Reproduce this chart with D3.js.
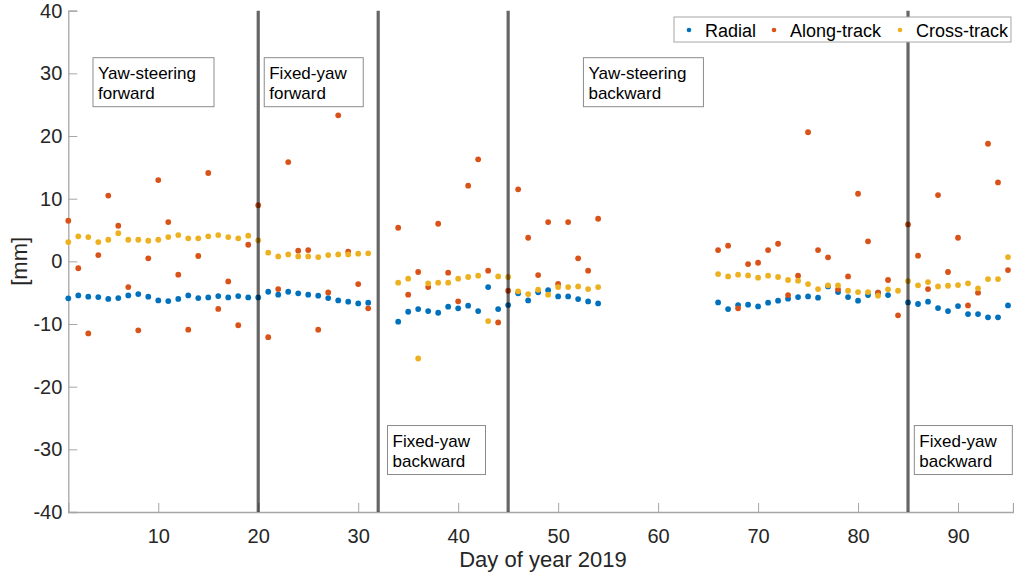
<!DOCTYPE html>
<html>
<head>
<meta charset="utf-8">
<script src="https://cdn.jsdelivr.net/npm/d3@7"></script>
<style>
  html, body { margin: 0; padding: 0; background: #fff; }
  svg { display: block; font-family: "Liberation Sans", Arial, sans-serif; }
</style>
</head>
<body>
<svg id="chart" width="1014" height="576"></svg>
<script>
// Day-of-year epochs (2019) with orbit residuals in mm
const days = [
  1,2,3,4,5,6,7,8,9,10,11,12,13,14,15,16,17,18,19,20,21,22,23,24,25,26,27,28,29,30,31,
  34,35,36,37,38,39,40,41,42,43,44,45,46,47,48,49,50,51,52,53,54,
  66,67,68,69,70,71,72,73,74,75,76,77,78,79,80,81,82,83,84,85,86,87,88,89,90,91,92,93,94,95
];

const radial = [
  -5.9,-5.43,-5.64,-5.7,-6.0,-5.86,-5.43,-5.22,-5.64,-6.23,-6.34,-6.0,-5.43,-5.86,-5.75,-5.54,-5.75,-5.54,-5.75,-5.75,
  -4.85,-5.32,-4.85,-5.11,-5.32,-5.48,-5.86,-6.23,-6.44,-6.71,-6.6,
  -9.63,-8.04,-7.61,-7.93,-8.2,-7.24,-7.5,-7.08,-7.93,-4.1,-7.61,-6.97,-5.11,-6.23,-4.95,-4.6,-5.59,-5.59,-6.02,-6.39,-6.71,
  -6.55,-7.61,-6.97,-6.92,-7.2,-6.6,-6.28,-5.96,-5.7,-5.59,-5.8,-4.0,-4.9,-5.7,-6.28,-5.38,-5.0,-5.38,null,
  -6.55,-6.81,-6.44,-7.45,-7.93,-7.13,-8.41,-8.41,-8.94,-8.94,-7.03
];

const alongTrack = [
  6.48,-1.1,-11.5,1.0,10.5,5.68,-4.1,-11.0,0.48,12.97,6.27,-2.13,-10.9,0.85,14.1,-7.6,-3.2,-10.2,2.65,8.95,
  -12.1,-4.42,15.85,1.7,1.8,-10.9,-4.96,23.3,1.53,-3.62,-7.5,
  5.36,-5.32,-1.7,-4.1,6.0,-1.81,-6.38,12.07,16.28,-1.49,-9.74,-4.69,11.49,3.77,-2.19,6.27,-3.6,6.27,0.48,-1.49,6.8,
  1.8,2.5,-7.5,-0.43,-0.22,1.8,2.81,-5.38,-2.29,20.6,1.8,0.64,-4.47,-2.4,10.79,3.19,-5.0,-2.98,-8.62,
  5.9,0.9,-4.42,10.58,-1.7,3.77,-7.03,-5.0,18.77,12.6,-1.39
];

const crossTrack = [
  3.08,4.0,3.88,3.08,3.45,4.5,3.45,3.45,3.29,3.45,3.88,4.2,3.67,3.67,4.0,4.2,3.88,3.67,4.09,3.35,
  1.38,0.79,1.11,0.79,0.79,0.69,1.0,1.11,1.11,1.22,1.27,
  -3.41,-2.77,-15.5,-3.51,-3.41,-3.41,-2.77,-2.5,-2.29,-9.53,-2.4,-2.5,-4.79,-5.22,-4.53,-5.32,-4.1,-4.1,-4.0,-4.42,-4.1,
  -2.03,-2.4,-2.13,-2.24,-2.61,-2.29,-2.5,-2.98,-3.09,-3.62,-4.42,-3.83,-3.83,-4.69,-4.9,-4.9,-5.48,-4.47,-4.69,
  -3.14,-3.83,-3.3,-4.0,-3.89,-3.78,-3.51,-4.31,-2.83,-2.83,0.69
];

const seriesNames = ["Radial", "Along-track", "Cross-track"];
const seriesColors = ["#0072BD", "#D95319", "#EDB120"];

// Attitude-mode switch epochs
const switchDays = [20, 32, 45, 85];

const xTicks = [10, 20, 30, 40, 50, 60, 70, 80, 90];
const yTicks = [-40, -30, -20, -10, 0, 10, 20, 30, 40];

// Phase labels: text lines, box anchor (day, mm) and box width in px
const phaseNotes = [
  { lines: ["Yaw-steering", "forward"], day: 3.47, mm: 32.5, w: 121 },
  { lines: ["Fixed-yaw", "forward"],    day: 20.6, mm: 32.5, w: 99 },
  { lines: ["Fixed-yaw", "backward"],   day: 32.93, mm: -26.2, w: 98 },
  { lines: ["Yaw-steering", "backward"], day: 52.53, mm: 32.5, w: 120 },
  { lines: ["Fixed-yaw", "backward"],   day: 85.63, mm: -26.2, w: 98 }
];

const svg = d3.select("#chart");
const plot = { left: 68.3, right: 1013, top: 10.7, bottom: 512 };

const x = d3.scaleLinear().domain([1, 95.5]).range([plot.left, plot.right]);
const y = d3.scaleLinear().domain([-40, 40]).range([plot.bottom, plot.top]);

const axisColor = "#a6a6a6";
const textColor = "#262626";
const plainInt = d => String(d);   // hyphen-minus, as in the printed figure

// Axes (ticks inward, MATLAB-like)
const gx = svg.append("g").attr("transform", `translate(0,${plot.bottom})`)
  .call(d3.axisBottom(x).tickValues(xTicks).tickSize(-9).tickPadding(17).tickFormat(plainInt));
const gy = svg.append("g").attr("transform", `translate(${plot.left},0)`)
  .call(d3.axisLeft(y).tickValues(yTicks).tickSize(-9).tickPadding(6).tickFormat(plainInt));
[gx, gy].forEach(g => {
  g.select(".domain").attr("stroke", axisColor).attr("stroke-width", 1.3);
  g.selectAll(".tick line").attr("stroke", axisColor).attr("stroke-width", 1);
  g.selectAll(".tick text").attr("fill", textColor).style("font-size", "20px")
    .style("font-family", "Liberation Sans, Arial, sans-serif");
});

// Axis titles
svg.append("text")
  .attr("x", 543).attr("y", 567)
  .attr("text-anchor", "middle").attr("fill", textColor)
  .style("font-size", "22px").text("Day of year 2019");
svg.append("text")
  .attr("transform", `translate(27,${y(0)}) rotate(-90)`)
  .attr("text-anchor", "middle").attr("fill", textColor)
  .style("font-size", "22px").text("[mm]");

// Data points
const seriesValues = [radial, alongTrack, crossTrack];
seriesValues.forEach((vals, i) => {
  const pts = days.map((d, k) => ({ d, v: vals[k] })).filter(p => p.v !== null);
  svg.append("g").selectAll("circle").data(pts).join("circle")
    .attr("cx", p => x(p.d)).attr("cy", p => y(p.v)).attr("r", 2.9)
    .attr("fill", seriesColors[i]);
});

// Mode switch lines
svg.append("g").selectAll("line").data(switchDays).join("line")
  .attr("x1", d => x(d)).attr("x2", d => x(d))
  .attr("y1", plot.top).attr("y2", plot.bottom)
  .attr("stroke", "#000").attr("stroke-opacity", 0.6).attr("stroke-width", 3.2);

// Phase label boxes
const notes = svg.append("g").selectAll("g").data(phaseNotes).join("g")
  .attr("transform", n => `translate(${x(n.day)},${y(n.mm)})`);
notes.append("rect")
  .attr("x", 0).attr("y", 0).attr("width", n => n.w).attr("height", 49)
  .attr("fill", "#fff").attr("stroke", "#8c8c8c").attr("stroke-width", 1);
notes.each(function(n) {
  const g = d3.select(this);
  n.lines.forEach((ln, j) => {
    g.append("text").attr("x", 5).attr("y", 21 + j * 20.7)
      .attr("fill", "#000").style("font-size", "17px").text(ln);
  });
});

// Legend
const legend = svg.append("g").attr("transform", "translate(674,17)");
legend.append("rect").attr("width", 337).attr("height", 25)
  .attr("fill", "#fff").attr("stroke", "#a6a6a6").attr("stroke-width", 1);
const legendDotX = [15, 100, 226];
seriesNames.forEach((name, i) => {
  legend.append("circle").attr("cx", legendDotX[i]).attr("cy", 13).attr("r", 2.3)
    .attr("fill", seriesColors[i]);
  legend.append("text").attr("x", legendDotX[i] + 16).attr("y", 19.5)
    .attr("fill", "#000").style("font-size", "18px").text(name);
});
</script>
</body>
</html>
